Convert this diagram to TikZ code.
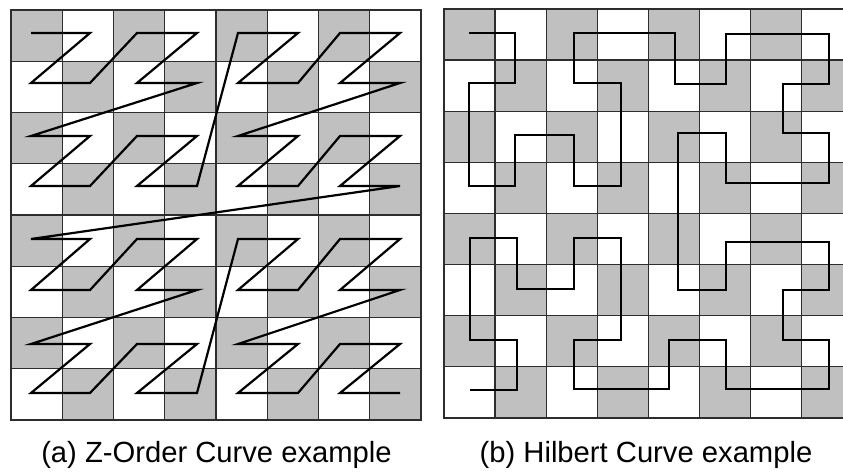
\documentclass[tikz,border=0pt]{standalone}
\usepackage{fontspec}
\setmainfont{Liberation Sans}
\definecolor{cellgray}{RGB}{192,192,192}
\definecolor{gridline}{RGB}{45,45,45}
\tikzset{
  cellfill/.style={fill=cellgray},
  gridl/.style={draw=gridline, line width=1.4pt, line cap=rect},
  curve/.style={draw=black, line width=2.2pt},
  lbl/.style={font=\fontsize{29.2}{34}\selectfont, text=black, inner sep=0pt},
}
\begin{document}
\begin{tikzpicture}[x=1pt, y=-1pt]
\useasboundingbox (0,0) rectangle (843,474);
\fill[white] (0,0) rectangle (843,474);
\clip (0,0) rectangle (843,474);

% ---------- left grid (Z-order) ----------
\begin{scope}[shift={(11,10)}]
  \foreach \c in {0,...,7} {
    \foreach \r in {0,...,7} {
      \pgfmathtruncatemacro{\cpar}{mod(\c+\r,2)}
      \ifnum\cpar=0
        \fill[cellfill] (\c*51.25,\r*51.25) rectangle ++(51.25,51.25);
      \fi
    }
  }
  \foreach \i in {0,...,8} {
    \draw[gridl] (\i*51.25,0) -- (\i*51.25,410);
    \draw[gridl] (0,\i*51.25) -- (410,\i*51.25);
  }
\end{scope}

% ---------- right grid (Hilbert) ----------
\begin{scope}[shift={(444,9)}]
  \foreach \c in {0,...,7} {
    \foreach \r in {0,...,7} {
      \pgfmathtruncatemacro{\cpar}{mod(\c+\r,2)}
      \ifnum\cpar=0
        \fill[cellfill] (\c*51.1,\r*51.1) rectangle ++(51.1,51.1);
      \fi
    }
  }
  \foreach \i in {0,...,8} {
    \draw[gridl] (\i*51.1,0) -- (\i*51.1,408.8);
    \draw[gridl] (0,\i*51.1) -- (408.8,\i*51.1);
  }
\end{scope}

% ---------- Z-order curve points ----------
\foreach \c/\x in {0/31,1/90,2/137,3/197,4/238,5/298,6/340,7/400} {
  \foreach \r/\y in {0/33,1/83,2/136,3/186,4/239,5/290,6/344,7/393} {
    \coordinate (z\c\r) at (\x,\y);
  }
}
\draw[curve]
  (z00) -- (z10) -- (z01) -- (z11) --
  (z20) -- (z30) -- (z21) -- (z31) --
  (z02) -- (z12) -- (z03) -- (z13) --
  (z22) -- (z32) -- (z23) -- (z33) --
  (z40) -- (z50) -- (z41) -- (z51) --
  (z60) -- (z70) -- (z61) -- (z71) --
  (z42) -- (z52) -- (z43) -- (z53) --
  (z62) -- (z72) -- (z63) -- (z73) --
  (z04) -- (z14) -- (z05) -- (z15) --
  (z24) -- (z34) -- (z25) -- (z35) --
  (z06) -- (z16) -- (z07) -- (z17) --
  (z26) -- (z36) -- (z27) -- (z37) --
  (z44) -- (z54) -- (z45) -- (z55) --
  (z64) -- (z74) -- (z65) -- (z75) --
  (z46) -- (z56) -- (z47) -- (z57) --
  (z66) -- (z76) -- (z67) -- (z77);

% ---------- Hilbert curve ----------
\coordinate (hstart) at (469,33);
\coordinate (hend) at (470,390);
\draw[curve] (hstart) -- (515,33) -- (515,83) -- (469,83) -- (469,186) -- (515,186)
  -- (515,135) -- (574,135) -- (574,186) -- (621,186) -- (621,83) -- (574,83)
  -- (574,33) -- (675,33) -- (675,84) -- (726,84) -- (726,34) -- (829,34)
  -- (829,84) -- (783,84) -- (783,133) -- (829,133) -- (829,183) -- (726,183)
  -- (726,133) -- (678,133) -- (678,290) -- (726,290) -- (726,242) -- (829,242)
  -- (829,290) -- (783,290) -- (783,340) -- (829,340) -- (829,389) -- (726,389)
  -- (726,340) -- (669,340) -- (669,389) -- (574,389) -- (574,340) -- (621,340)
  -- (621,238) -- (574,238) -- (574,289) -- (517,289) -- (517,238) -- (470,238)
  -- (470,340) -- (517,340) -- (517,390) -- (hend);

% ---------- captions ----------
\node[lbl, anchor=base] (capA) at (216.5,462) {(a) Z-Order Curve example};
\node[lbl, anchor=base] (capB) at (646,462) {(b) Hilbert Curve example};
\end{tikzpicture}
\end{document}
